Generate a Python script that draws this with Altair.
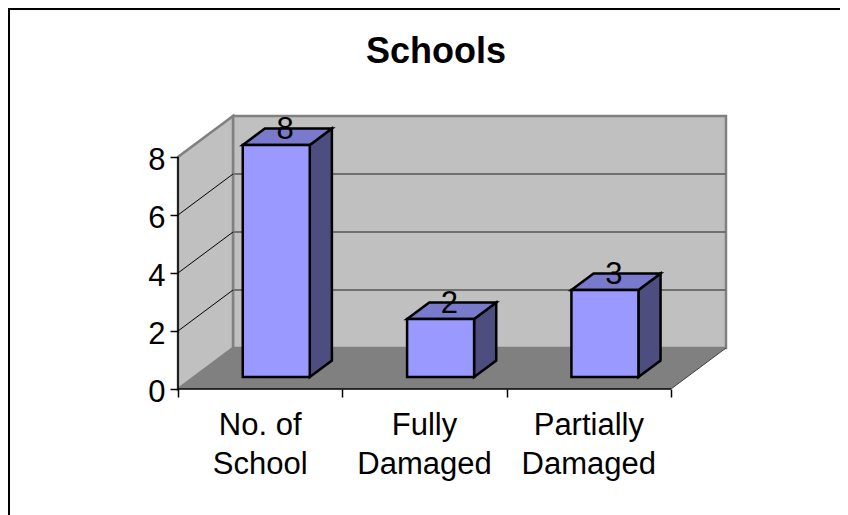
import altair as alt
import pandas as pd

# ---- chart values
categories = ["No. of\nSchool", "Fully\nDamaged", "Partially\nDamaged"]
values = [8, 2, 3]
value_ticks = [0, 2, 4, 6, 8]
title_text = "Schools"

# ---- canvas and projection
W, H = 832, 507
X0, Y0 = 170, 381        # svg position of the front corner (category 0, value 0)
PU, PV = 164.33, 29.0    # pixels per category / per value
DU, DV = 55 / PU, 41 / PV  # full floor depth, in data units
N = len(categories)
VMAX = value_ticks[-1]
BAR_W = 67 / PU
BAR_D0, BAR_D1 = 12 / 41, 28.5 / 41

FONT = "Liberation Sans"
WALL, FLOOR, EDGE = "#C0C0C0", "#808080", "#808080"
FRONT, TOP, SIDE = "#9999FF", "#7A7ACC", "#4D4D80"

x_scale = alt.Scale(domain=[-X0 / PU, (W - X0) / PU], range=[0, W], nice=False, zero=False)
y_scale = alt.Scale(domain=[-(H - Y0) / PV, Y0 / PV], range=[H, 0], nice=False, zero=False)
x_axis = alt.Axis(
    values=list(range(N + 1)), labels=False, domain=False, grid=False, title=None,
    tickSize=8, tickColor="black", tickWidth=1.5, offset=-(H - Y0), zindex=1,
)
y_axis = alt.Axis(
    values=value_ticks, domain=False, grid=False, title=None, tickSize=8, tickColor="black",
    tickWidth=1.5, offset=-X0, labelFont=FONT, labelFontSize=31, labelColor="black",
    labelPadding=5, labelOffset=3, zindex=1,
)
X = alt.X("x:Q", scale=x_scale, axis=x_axis)
Y = alt.Y("y:Q", scale=y_scale, axis=y_axis)


def poly(rows, fill, stroke=None, sw=2):
    """rows: (group, x, y, y2), sorted by x – a filled outline through the shared scales."""
    df = pd.DataFrame(rows, columns=["g", "x", "y", "y2"])
    opts = dict(fill=fill, strokeJoin="miter", interpolate="linear")
    if stroke:
        opts.update(stroke=stroke, strokeWidth=sw)
    else:
        opts.update(strokeWidth=0)
    return alt.Chart(df).mark_area(**opts).encode(x=X, y=Y, y2="y2:Q", detail="g:N")


def segs(rows, color, sw):
    """rows: (x, y, x2, y2) – straight segments."""
    df = pd.DataFrame(
        [(i, 0, a, b) for i, (a, b, c, d) in enumerate(rows)]
        + [(i, 1, c, d) for i, (a, b, c, d) in enumerate(rows)],
        columns=["g", "k", "x", "y"],
    )
    return alt.Chart(df).mark_line(color=color, strokeWidth=sw, strokeCap="butt").encode(
        x=X, y=Y, detail="g:N", order="k:Q"
    )


def slant_top(g, x0, x1, y, dx, dy):
    return [
        (g, x0, y, y),
        (g, x0 + dx, y + dy, y),
        (g, x1, y + dy, y),
        (g, x1 + dx, y + dy, y + dy),
    ]


layers = []

# walls and floor
layers.append(poly([("b", DU, DV, VMAX + DV), ("b", N + DU, DV, VMAX + DV)], WALL, EDGE, 2.5))
layers.append(poly([("l", 0, 0, VMAX), ("l", DU, DV, VMAX + DV)], WALL, EDGE, 2.5))
layers.append(poly(slant_top("f", 0, N, 0, DU, DV), FLOOR))

# grid
ticks = value_ticks[1:-1]
layers.append(segs([(DU, t + DV, N + DU, t + DV) for t in ticks], "#707070", 2))
layers.append(segs([(0, t, DU, t + DV) for t in ticks], "black", 1))
layers.append(segs([(N, 0, N + DU, DV)], "#404040", 1))

# axis lines
layers.append(segs([(0, 0, 0, VMAX), (0, 0, N, 0)], "black", 1.5))

# bars
dx0, dy0 = BAR_D0 * DU, BAR_D0 * DV
ddx, ddy = (BAR_D1 - BAR_D0) * DU, (BAR_D1 - BAR_D0) * DV
tops, sides, fronts, labels = [], [], [], []
for i, v in enumerate(values):
    c = i + 0.5 + dx0
    a, b = c - BAR_W / 2, c + BAR_W / 2
    tops += slant_top(f"t{i}", a, b, v + dy0, ddx, ddy)
    sides += [(f"s{i}", b, dy0, v + dy0), (f"s{i}", b + ddx, dy0 + ddy, v + dy0 + ddy)]
    fronts.append({"x": a, "x2": b, "y": dy0, "y2": v + dy0})
    labels.append({"x": c + ddx * 0.4, "y": v + dy0 + ddy * 0.34, "t": str(v)})

layers.append(poly(sides, SIDE, "black", 2.5))
layers.append(poly(tops, TOP, "black", 2.5))
layers.append(
    alt.Chart(pd.DataFrame(fronts)).mark_rect(fill=FRONT, stroke="black", strokeWidth=2.5).encode(
        x=X, x2="x2:Q", y=Y, y2="y2:Q"
    )
)
layers.append(
    alt.Chart(pd.DataFrame(labels)).mark_text(
        font=FONT, fontSize=31, color="black", align="center", baseline="alphabetic"
    ).encode(x=X, y=Y, text="t:N")
)

# category labels
cat_df = pd.DataFrame({"x": [i + 0.5 for i in range(N)], "y": [-45.5 / PV] * N, "t": categories})
layers.append(
    alt.Chart(cat_df).mark_text(
        font=FONT, fontSize=31, color="black", align="center", baseline="alphabetic",
        lineBreak="\n", lineHeight=39.5
    ).encode(x=X, y=Y, text="t:N")
)

# chart title
title_df = pd.DataFrame({"x": [(436 - 8 - X0) / PU], "y": [(Y0 - 55) / PV], "t": [title_text]})
layers.append(
    alt.Chart(title_df).mark_text(
        font=FONT, fontSize=36, fontWeight="bold", color="black", align="center", baseline="alphabetic"
    ).encode(x=X, y=Y, text="t:N")
)

# outer frame (left and top edges of the picture)
xl, yt = -X0 / PU, Y0 / PV
layers.append(segs([(xl, yt, xl, -(H - Y0) / PV), (xl, yt, (W - X0) / PU, yt)], "black", 4))

chart = alt.layer(*layers).properties(
    width=W, height=H, padding=0, autosize=alt.AutoSizeParams(type="none"),
    background="white",
).configure_view(stroke=None)

chart.save("out.html", embed_options={"renderer": "svg", "actions": False})
